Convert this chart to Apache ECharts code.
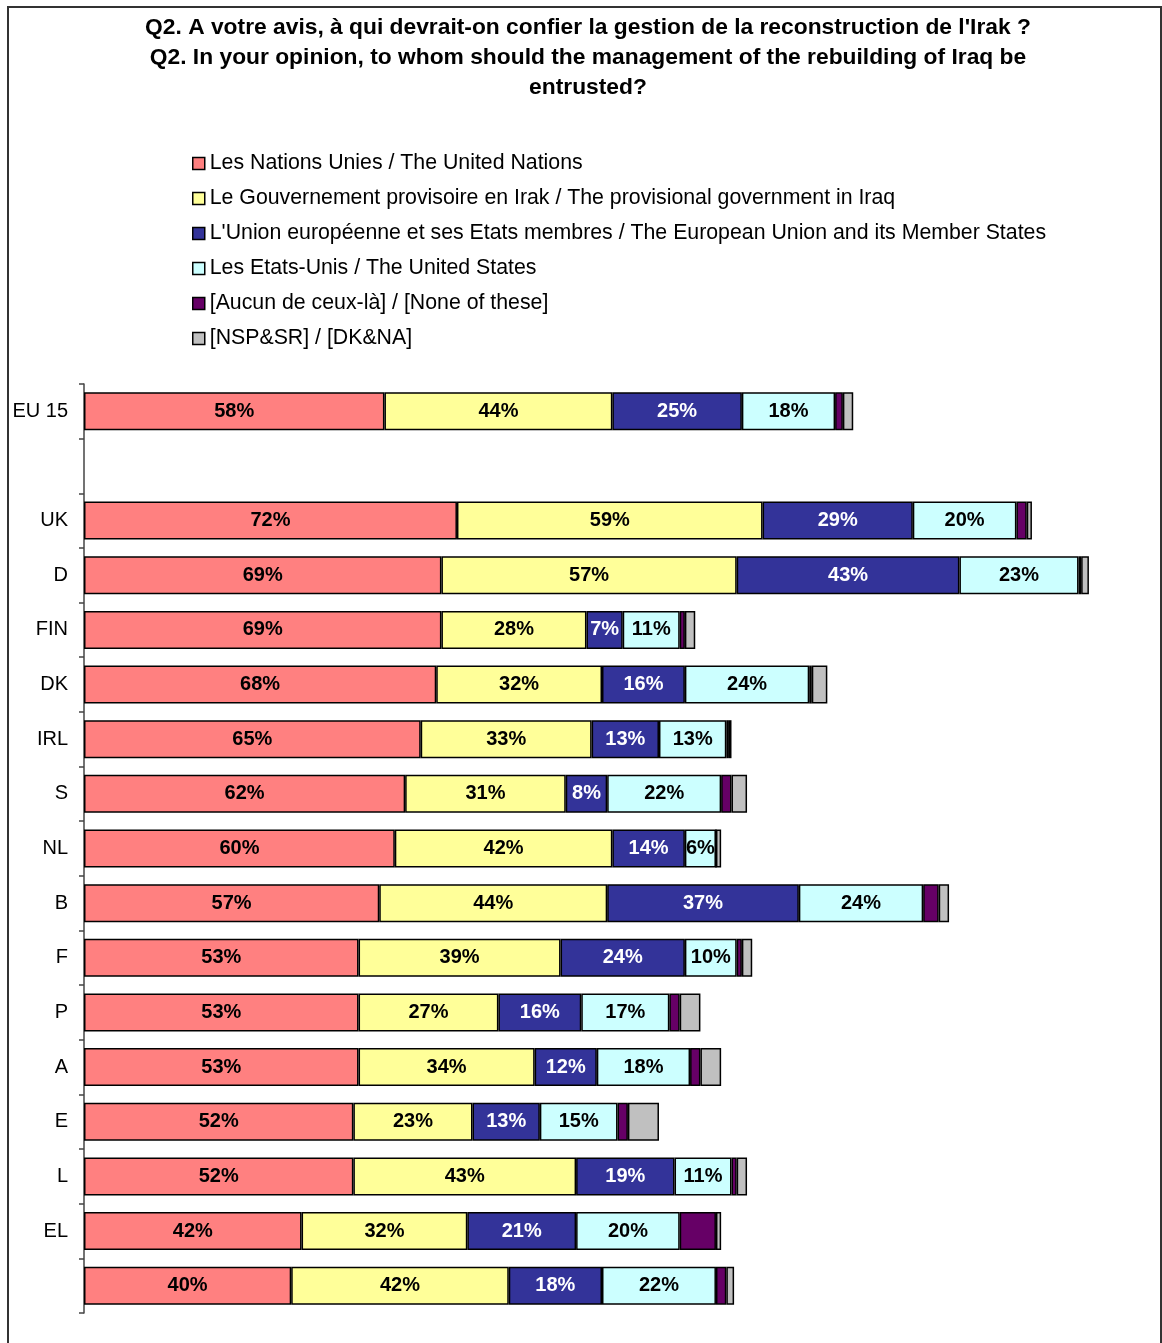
<!DOCTYPE html>
<html>
<head>
<meta charset="utf-8">
<script src="https://cdn.jsdelivr.net/npm/echarts@6/dist/echarts.min.js"></script>
<style>
    html, body { margin: 0; padding: 0; background: #fff; }
    #chart { width: 1162px; height: 1343px; }
</style>
</head>
<body>
<div id="chart"></div>
<script>
(function () {
    // categories top to bottom (second one is an empty spacer row, last has no label)
    var countries = ['EU 15', ' ', 'UK', 'D', 'FIN', 'DK', 'IRL', 'S', 'NL', 'B', 'F', 'P', 'A', 'E', 'L', 'EL', ''];

    var seriesNames = [
        'Les Nations Unies / The United Nations',
        'Le Gouvernement provisoire en Irak / The provisional government in Iraq',
        "L'Union européenne et ses Etats membres / The European Union and its Member States",
        'Les Etats-Unis / The United States',
        '[Aucun de ceux-là] / [None of these]',
        '[NSP&SR] / [DK&NA]'
    ];

    var unitedNations = [58, null, 72, 69, 69, 68, 65, 62, 60, 57, 53, 53, 53, 52, 52, 42, 40];
    var provisionalGov = [44, null, 59, 57, 28, 32, 33, 31, 42, 44, 39, 27, 34, 23, 43, 32, 42];
    var europeanUnion = [25, null, 29, 43, 7, 16, 13, 8, 14, 37, 24, 16, 12, 13, 19, 21, 18];
    var unitedStates = [18, null, 20, 23, 11, 24, 13, 22, 6, 24, 10, 17, 18, 15, 11, 20, 22];
    var noneOfThese = [1.5, null, 2, 0.5, 1, 0.5, 0.5, 2, 0, 3, 1, 2, 2, 2, 1, 7, 2];
    var dontKnow = [2, null, 1, 1.5, 2, 3, 0.5, 3, 1, 2, 2, 4, 4, 6, 2, 1, 1.5];

    var colors = ['#FF8080', '#FFFF99', '#333399', '#CCFFFF', '#660066', '#C0C0C0'];
    var labelColors = ['#000', '#000', '#fff', '#000', '#000', '#000'];
    var values = [unitedNations, provisionalGov, europeanUnion, unitedStates, noneOfThese, dontKnow];

    var chart = echarts.init(document.getElementById('chart'));

    var series = values.map(function (data, i) {
        return {
            name: seriesNames[i],
            type: 'bar',
            stack: 'total',
            data: data,
            barWidth: 38,
            itemStyle: { color: colors[i], borderColor: '#000', borderWidth: 1.5 },
            label: {
                show: i < 4,
                position: 'inside',
                formatter: function (p) { return p.value == null ? '' : p.value + '%'; },
                color: labelColors[i],
                fontFamily: 'Liberation Sans, Arial, sans-serif',
                fontWeight: 'bold',
                fontSize: 20
            },
            emphasis: { disabled: true },
            animation: false
        };
    });

    var option = {
        backgroundColor: '#fff',
        animation: false,
        title: {
            text: "Q2. A votre avis, à qui devrait-on confier la gestion de la reconstruction de l'Irak ?\n" +
                  'Q2. In your opinion, to whom should the management of the rebuilding of Iraq be\n' +
                  'entrusted?',
            left: 583,
            textAlign: 'center',
            top: 8,
            textStyle: {
                fontFamily: 'Liberation Sans, Arial, sans-serif',
                fontWeight: 'bold',
                fontSize: 22.8,
                lineHeight: 30,
                color: '#000'
            }
        },
        legend: {
            orient: 'vertical',
            left: 187,
            top: 148,
            itemWidth: 12,
            itemHeight: 12,
            itemGap: 14,
            icon: 'rect',
            itemStyle: { borderColor: '#000', borderWidth: 1.5 },
            textStyle: {
                fontFamily: 'Liberation Sans, Arial, sans-serif',
                fontSize: 21.3,
                color: '#000',
                padding: [0, 0, 0, 0]
            },
            data: seriesNames
        },
        grid: {
            left: 84,
            right: 42,
            top: 384,
            bottom: 30,
            containLabel: false
        },
        xAxis: {
            type: 'value',
            min: 0,
            max: 200,
            show: false
        },
        yAxis: {
            type: 'category',
            data: countries,
            inverse: true,
            axisLine: { lineStyle: { color: '#444', width: 1.5 } },
            axisTick: { show: true, length: 5, lineStyle: { color: '#444', width: 1.5 } },
            axisLabel: {
                margin: 16,
                fontFamily: 'Liberation Sans, Arial, sans-serif',
                fontSize: 20,
                color: '#000'
            }
        },
        graphic: [{
            type: 'rect',
            shape: { x: 8, y: 7, width: 1153, height: 1350 },
            style: { fill: null, stroke: '#333', lineWidth: 2 },
            silent: true,
            z: -1
        }],
        series: series
    };

    chart.setOption(option);
})();
</script>
</body>
</html>
